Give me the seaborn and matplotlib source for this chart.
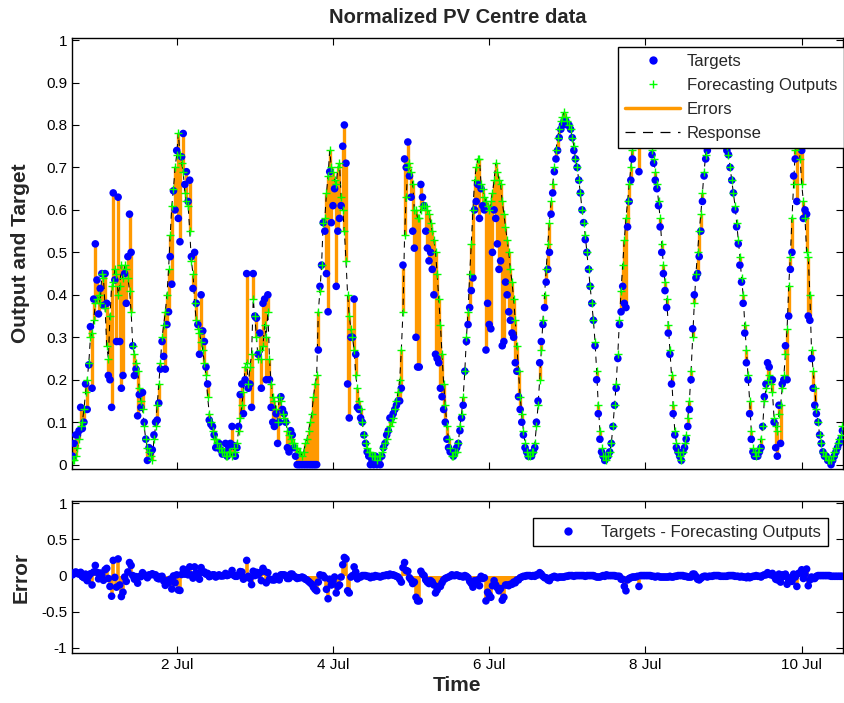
"""Normalized PV Centre data: response plot of targets vs forecasting outputs."""

import matplotlib

matplotlib.use("Agg")
import matplotlib.pyplot as plt
import pandas as pd
import seaborn as sns
from matplotlib.lines import Line2D
from matplotlib.ticker import FormatStrFormatter

# Half-hourly samples
start_time = "2014-06-30 16:00"
step = "30min"

targets = [
    .02, .05, .07, .07, .08, .135, .085, .10, .19, .13, .235, .325,
    .18, .39, .52, .435, .355, .415, .45, .375, .45, .38, .21, .20,
    .135, .64, .435, .29, .63, .29, .18, .21, .45, .38, .49, .59,
    .50, .28, .21, .225, .115, .165, .135, .17, .10, .06, .01, .04,
    .03, .035, .07, .10, .105, .145, .225, .29, .255, .225, .33, .36,
    .49, .425, .645, .60, .74, .58, .525, .725, .78, .66, .69, .62,
    .67, .49, .415, .50, .38, .33, .26, .40, .315, .29, .23, .19,
    .105, .095, .09, .07, .04, .045, .05, .035, .025, .03, .05, .02,
    .04, .05, .09, .045, .02, .04, .09, .165, .19, .12, .20, .45,
    .18, .19, .135, .45, .35, .345, .26, .31, .18, .38, .39, .20,
    .40, .20, .135, .10, .09, .12, .05, .10, .16, .13, .12, .10,
    .04, .03, .08, .07, .04, .02, 0, 0, 0, 0, 0, 0,
    0, 0, 0, 0, 0, 0, 0, .27, .42, .47, .57, .55,
    .45, .36, .69, .57, .61, .65, .42, .55, .58, .61, .75, .80,
    .71, .19, .11, .30, .30, .39, .26, .135, .13, .11, .10, .07,
    .05, .03, .02, 0, .01, 0, .02, 0, .01, 0, .02, .04,
    .05, .07, .08, .11, .11, .12, .13, .14, .15, .15, .18, .47,
    .72, .70, .76, .68, .63, .55, .51, .30, .23, .23, .66, .63,
    .61, .55, .51, .48, .50, .46, .40, .26, .25, .24, .18, .16,
    .13, .10, .06, .04, .03, .03, .02, .03, .04, .05, .08, .11,
    .14, .22, .29, .33, .37, .41, .44, .60, .62, .66, .58, .65,
    .61, .60, .27, .38, .33, .32, .50, .60, .58, .52, .46, .48,
    .28, .29, .43, .40, .36, .34, .31, .30, .24, .22, .16, .13,
    .10, .07, .04, .03, .02, .02, .02, .03, .04, .10, .15, .24,
    .29, .33, .37, .43, .46, .50, .59, .64, .69, .72, .74, .77,
    .79, .80, .81, .81, .80, .80, .79, .77, .74, .72, .70, .67,
    .64, .60, .57, .53, .50, .46, .42, .38, .34, .28, .20, .12,
    .06, .03, .02, .01, .02, .02, .03, .05, .09, .14, .18, .25,
    .33, .36, .42, .38, .37, .56, .62, .67, .72, .76, .79, .82,
    .69, .84, .85, .85, .84, .82, .80, .77, .73, .71, .67, .65,
    .61, .56, .50, .45, .41, .37, .31, .26, .19, .12, .07, .04,
    .03, .02, .01, .03, .04, .06, .09, .13, .20, .32, .40, .44,
    .45, .49, .55, .62, .68, .72, .74, .78, .80, .82, .84, .85,
    .85, .84, .82, .80, .78, .76, .74, .73, .70, .67, .64, .60,
    .56, .52, .47, .43, .38, .31, .24, .20, .12, .06, .03, .02,
    .02, .02, .03, .04, .09, .16, .19, .24, .23, .20, .20, .10,
    .04, .02, .14, .05, .19, .20, .28, .20, .35, .46, .50, .68,
    .72, .62, .78, .76, .74, .58, .60, .59, .35, .34, .25, .18,
    .14, .12, .10, .07, .05, .03, .02, .02, .01, .01, 0, .01,
    .02, .03, .04, .05, .06, .08,
]

outputs = [
    .01, .01, .02, .04, .06, .09, .10, .13, .17, .20, .24, .30,
    .31, .34, .38, .39, .40, .38, .45, .44, .37, .28, .25, .35,
    .42, .43, .46, .45, .40, .42, .47, .44, .47, .46, .44, .41,
    .36, .28, .26, .24, .22, .18, .15, .13, .09, .06, .04, .03,
    .02, .01, .06, .09, .14, .19, .24, .30, .33, .36, .40, .46,
    .54, .61, .65, .70, .73, .78, .73, .71, .69, .64, .62, .61,
    .55, .48, .45, .38, .34, .32, .31, .29, .27, .24, .21, .16,
    .12, .10, .08, .06, .06, .05, .04, .04, .03, .03, .02, .02,
    .03, .03, .02, .04, .03, .05, .08, .11, .14, .17, .23, .24,
    .19, .23, .26, .39, .35, .30, .25, .27, .25, .28, .33, .30,
    .36, .25, .19, .16, .15, .13, .10, .16, .15, .12, .11, .10,
    .08, .07, .06, .05, .05, .04, .04, .03, .03, .02, .03, .05,
    .06, .08, .10, .12, .16, .19, .21, .36, .41, .47, .57, .58,
    .64, .68, .74, .70, .69, .67, .66, .70, .71, .63, .60, .55,
    .48, .40, .35, .32, .30, .27, .21, .18, .15, .13, .10, .07,
    .05, .04, .03, .03, .02, .02, .02, .01, .02, .02, .03, .04,
    .05, .06, .08, .09, .10, .11, .13, .15, .17, .20, .27, .36,
    .54, .63, .70, .71, .69, .66, .60, .60, .58, .58, .60, .61,
    .61, .61, .60, .59, .57, .55, .53, .50, .45, .39, .33, .26,
    .19, .14, .09, .06, .04, .02, .02, .03, .03, .05, .09, .12,
    .16, .22, .30, .36, .45, .52, .60, .67, .70, .72, .72, .66,
    .65, .63, .62, .61, .60, .62, .64, .67, .71, .69, .67, .66,
    .62, .59, .56, .53, .50, .46, .43, .39, .34, .28, .22, .16,
    .12, .08, .05, .03, .02, .02, .03, .03, .05, .09, .14, .20,
    .27, .34, .40, .46, .52, .57, .62, .66, .70, .74, .77, .79,
    .81, .82, .83, .82, .81, .80, .79, .77, .75, .72, .70, .67,
    .64, .60, .57, .54, .50, .46, .42, .38, .34, .29, .22, .14,
    .08, .04, .02, .02, .01, .02, .03, .05, .09, .14, .19, .26,
    .34, .41, .47, .53, .58, .62, .66, .70, .74, .78, .81, .83,
    .84, .84, .85, .85, .84, .82, .80, .77, .74, .72, .69, .66,
    .62, .58, .52, .47, .43, .39, .33, .27, .21, .14, .08, .05,
    .03, .02, .01, .03, .05, .07, .11, .15, .22, .30, .38, .45,
    .50, .55, .59, .64, .69, .73, .76, .79, .81, .83, .84, .85,
    .85, .84, .83, .81, .79, .77, .75, .73, .70, .67, .64, .61,
    .57, .53, .49, .44, .40, .33, .27, .21, .15, .08, .04, .03,
    .02, .03, .04, .06, .09, .15, .18, .20, .21, .19, .17, .11,
    .09, .08, .12, .14, .18, .21, .26, .32, .42, .49, .58, .66,
    .74, .77, .75, .72, .66, .62, .58, .50, .49, .40, .27, .22,
    .18, .13, .10, .07, .05, .03, .02, .02, .01, .01, .01, .02,
    .03, .04, .05, .06, .07, .09,
]

tick_dates = ["2014-07-02", "2014-07-04", "2014-07-06", "2014-07-08", "2014-07-10"]
tick_labels = ["2 Jul", "4 Jul", "6 Jul", "8 Jul", "10 Jul"]

# Build dataframe
times = pd.date_range(start_time, periods=len(targets), freq=step)
df = pd.DataFrame({"Time": times, "Target": targets, "Output": outputs})
df["Error"] = df["Target"] - df["Output"]

sns.set_style("ticks")
plt.rcParams["font.family"] = ["Liberation Sans", "DejaVu Sans"]
plt.rcParams["axes.unicode_minus"] = False

blue = "#0000ff"
green = "#00ff00"
orange = "#ff9900"

fig = plt.figure(figsize=(8.45, 7.03), dpi=100)
ax1 = fig.add_axes([0.0852, 0.333, 0.9124, 0.613])
ax2 = fig.add_axes([0.0852, 0.0711, 0.9124, 0.2162])

# Top panel: errors, response, targets, outputs
ax1.vlines(df["Time"], df["Target"], df["Output"], color=orange, lw=2.4, zorder=1)
sns.lineplot(
    data=df, x="Time", y="Output", ax=ax1, color="black", lw=0.75,
    linestyle=(0, (6, 5)), legend=False, zorder=2,
)
sns.scatterplot(
    data=df, x="Time", y="Target", ax=ax1, color=blue, s=30,
    edgecolor="none", legend=False, zorder=3,
)
sns.scatterplot(
    data=df, x="Time", y="Output", ax=ax1, color=green, marker="+", s=30,
    linewidth=1, legend=False, zorder=4,
)

# Bottom panel: error stems and points
ax2.vlines(df["Time"], 0, df["Error"], color=orange, lw=2.6, zorder=1)
sns.scatterplot(
    data=df, x="Time", y="Error", ax=ax2, color=blue, s=30,
    edgecolor="none", legend=False, zorder=3,
)

xpad = pd.Timedelta("10min")
for ax in (ax1, ax2):
    ax.set_xlim(times[0] - xpad, times[-1] + xpad)
    ax.set_xticks(pd.to_datetime(tick_dates))
    ax.tick_params(direction="in", top=True, right=True, length=5,
                   labelsize=11, colors="black")
    for sp in ax.spines.values():
        sp.set_color("black")
        sp.set_linewidth(1)

ax1.set_ylim(-0.01, 1.005)
ax1.set_yticks([i / 10 for i in range(11)])
ax1.yaxis.set_major_formatter(FormatStrFormatter("%g"))
ax1.set_xticklabels([])
ax1.set_xlabel("")
ax1.set_ylabel("Output and Target", fontsize=15, fontweight="bold")
ax1.yaxis.set_label_coords(-0.054, 0.5)
ax1.set_title("Normalized PV Centre data", fontsize=14.5, fontweight="bold", pad=11)

ax2.set_ylim(-1.07, 1.03)
ax2.set_yticks([-1, -0.5, 0, 0.5, 1])
ax2.yaxis.set_major_formatter(FormatStrFormatter("%g"))
ax2.set_xticklabels(tick_labels)
ax2.set_xlabel("Time", fontsize=15, fontweight="bold", labelpad=3)
ax2.set_ylabel("Error", fontsize=15, fontweight="bold")
ax2.yaxis.set_label_coords(-0.054, 0.5)

# Legends
handles = [
    Line2D([], [], marker="o", color=blue, ls="none", markersize=6, markeredgewidth=0),
    Line2D([], [], marker="+", color=green, ls="none", markersize=6),
    Line2D([], [], color=orange, lw=2.5),
    Line2D([], [], color="black", lw=0.9, ls=(0, (8, 6))),
]
leg1 = ax1.legend(
    handles, ["Targets", "Forecasting Outputs", "Errors", "Response"],
    loc="upper right", bbox_to_anchor=(1.001, 0.979), borderaxespad=0,
    fancybox=False, edgecolor="black", framealpha=1, fontsize=12,
    handlelength=3.3, handletextpad=0.4, labelspacing=0.55,
)
leg1.get_frame().set_linewidth(1)

leg2 = ax2.legend(
    [Line2D([], [], marker="o", color=blue, ls="none", markersize=6, markeredgewidth=0)],
    ["Targets - Forecasting Outputs"],
    loc="upper right", bbox_to_anchor=(0.9805, 0.888), borderaxespad=0,
    fancybox=False, edgecolor="black", framealpha=1, fontsize=12,
    handlelength=3.4, handletextpad=0.3,
)
leg2.get_frame().set_linewidth(1)

fig.savefig("out.png", dpi=100)
plt.close(fig)
